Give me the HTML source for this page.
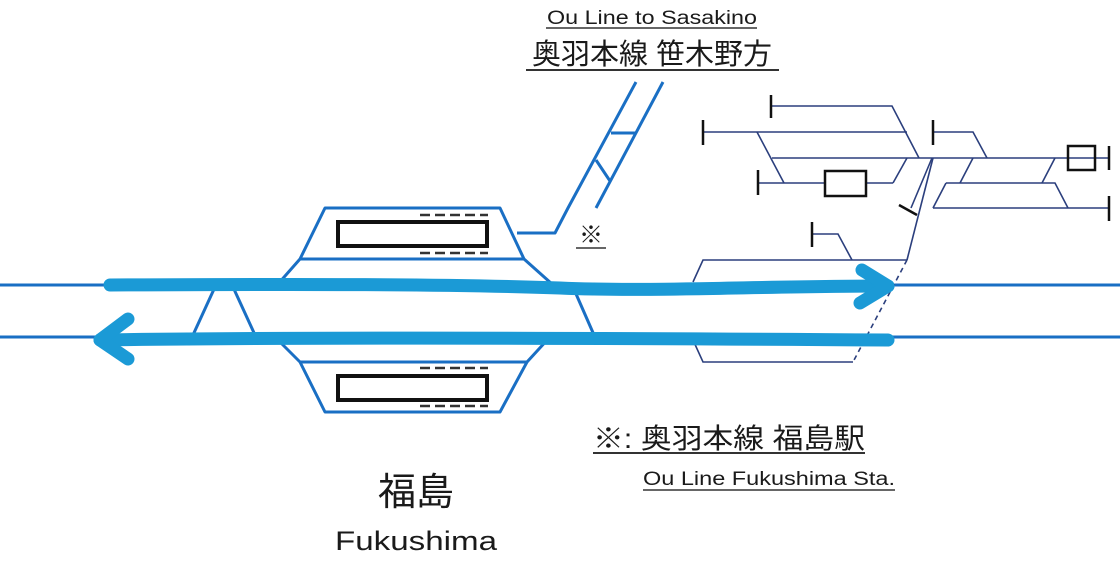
<!DOCTYPE html>
<html><head><meta charset="utf-8"><style>
html,body{margin:0;padding:0;background:#fff;}
svg{display:block;}
text{font-family:"Liberation Sans","Noto Sans CJK JP",sans-serif;fill:#1a1a1a;}
</style></head><body>
<svg width="1120" height="561" viewBox="0 0 1120 561" xmlns="http://www.w3.org/2000/svg">
<g stroke="#1a6fc4" stroke-width="3" fill="none" stroke-linejoin="round">
<line x1="0" y1="285" x2="1120" y2="285"/>
<line x1="0" y1="337" x2="1120" y2="337"/>
<polyline points="278,284 300,259 325,208 500,208 524,259 552,284"/>
<line x1="300" y1="259" x2="524" y2="259"/>
<polyline points="276,338 300,362 325,412 500,412 527,362 549,338"/>
<line x1="300" y1="362" x2="527" y2="362"/>
<line x1="193" y1="335" x2="215" y2="287"/>
<line x1="233" y1="287" x2="255" y2="335"/>
<line x1="573" y1="287" x2="594" y2="335"/>
<polyline points="517,233 555,233 568,208 636,82"/>
<line x1="663" y1="82" x2="596" y2="208"/>
<line x1="611" y1="133" x2="635" y2="133"/>
<line x1="596" y1="160" x2="610" y2="181"/>
</g>
<g fill="#fff" stroke="#111" stroke-width="4">
<rect x="338" y="222" width="149" height="24"/>
<rect x="338" y="376" width="149" height="24"/>
</g>
<g stroke="#333" stroke-width="2.5" stroke-dasharray="10,5">
<line x1="420" y1="215" x2="488" y2="215"/>
<line x1="420" y1="253" x2="488" y2="253"/>
<line x1="420" y1="368" x2="488" y2="368"/>
<line x1="420" y1="406" x2="488" y2="406"/>
</g>
<g stroke="#2b3f7d" stroke-width="1.6" fill="none">
<polyline points="771,106 892,106 919,158"/>
<line x1="703" y1="132" x2="907" y2="132"/>
<line x1="757" y1="132" x2="784" y2="183"/>
<line x1="772" y1="158" x2="1109" y2="158"/>
<line x1="907" y1="158" x2="893" y2="183"/>
<line x1="758" y1="183" x2="893" y2="183"/>
<polyline points="933,132 973,132 987,158"/>
<polyline points="946,183 1055,183 1068,208"/>
<line x1="960" y1="183" x2="973" y2="158"/>
<line x1="1042" y1="183" x2="1055" y2="158"/>
<line x1="933" y1="208" x2="1109" y2="208"/>
<line x1="946" y1="183" x2="933" y2="208"/>
<line x1="933" y1="158" x2="907" y2="260"/>
<line x1="907" y1="260" x2="853" y2="362" stroke-dasharray="5,4"/>
<line x1="932" y1="158" x2="911" y2="208"/>
<polyline points="812,234 838,234 852,260"/>
<polyline points="693,282 703,260 907,260"/>
<polyline points="693,340 703,362 853,362"/>
</g>
<g stroke="#111" stroke-width="2.5" fill="none">
<line x1="771" y1="95" x2="771" y2="118"/>
<line x1="703" y1="120" x2="703" y2="145"/>
<line x1="758" y1="170" x2="758" y2="195"/>
<line x1="933" y1="120" x2="933" y2="145"/>
<line x1="812" y1="222" x2="812" y2="247"/>
<line x1="1109" y1="146" x2="1109" y2="170"/>
<line x1="1109" y1="196" x2="1109" y2="221"/>
<line x1="899" y1="205" x2="917" y2="215"/>
<rect x="825" y="171" width="41" height="25" fill="#fff"/>
<rect x="1068" y="146" width="27" height="24" fill="none"/>
</g>
<g stroke="#1b9ad6" stroke-width="13" fill="none" stroke-linecap="round" stroke-linejoin="round">
<path d="M110,285 C300,284 450,284 560,288 C650,292 760,286 888,286"/>
<polyline points="862,270 888,286 860,303"/>
<path d="M100,340 C300,337 600,338 888,340"/>
<polyline points="128,319 100,340 128,359"/>
</g>
<g font-weight="bold">
<text x="547" y="24" font-size="19" textLength="210" lengthAdjust="spacingAndGlyphs" font-weight="normal">Ou Line to Sasakino</text>
<text x="643" y="485" font-size="19" textLength="252" lengthAdjust="spacingAndGlyphs" font-weight="normal">Ou Line Fukushima Sta.</text>
<text x="335" y="550" font-size="27" textLength="162" lengthAdjust="spacingAndGlyphs" font-weight="normal">Fukushima</text>
</g>
<line x1="546" y1="28" x2="757" y2="28" stroke="#333" stroke-width="1.5"/>
<text x="652" y="64" font-size="29" text-anchor="middle">奥羽本線 笹木野方</text>
<line x1="526" y1="70" x2="779" y2="70" stroke="#333" stroke-width="2"/>
<text x="591" y="243" font-size="24" text-anchor="middle">※</text>
<line x1="576" y1="248" x2="606" y2="248" stroke="#333" stroke-width="1.5"/>
<text x="593" y="448" font-size="28" textLength="272" lengthAdjust="spacingAndGlyphs">※: 奥羽本線 福島駅</text>
<line x1="593" y1="453" x2="865" y2="453" stroke="#333" stroke-width="2"/>
<line x1="643" y1="490" x2="895" y2="490" stroke="#333" stroke-width="1.5"/>
<text x="416" y="505" font-size="38" text-anchor="middle">福島</text>
</svg>
</body></html>
